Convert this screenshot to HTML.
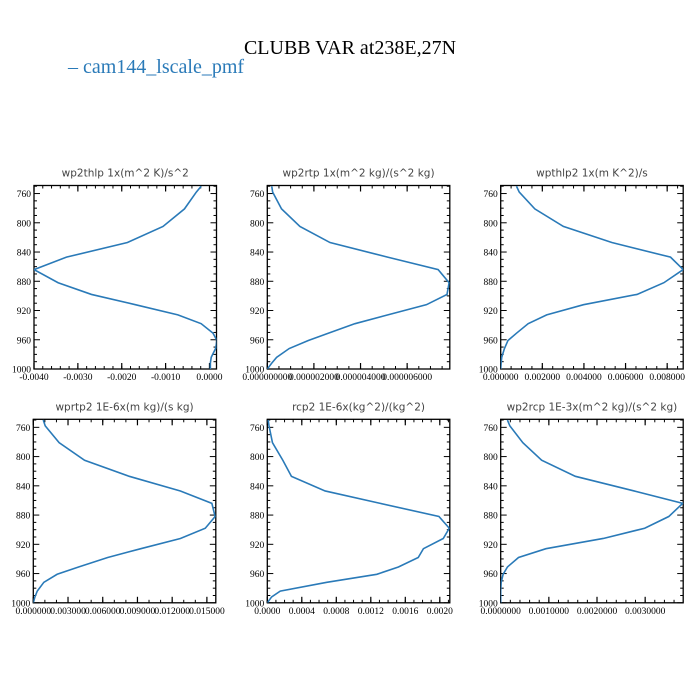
<!DOCTYPE html>
<html><head><meta charset="utf-8"><style>
html,body{margin:0;padding:0;background:#fff;}
svg{display:block;}
.ttl{font-family:"Liberation Serif",serif;}
.pt{font-family:"DejaVu Sans","Liberation Sans",sans-serif;font-size:10.5px;fill:#444;}
.tk{font-family:"Liberation Serif",serif;font-size:9.5px;fill:#000;}
</style></head><body>
<svg id="chart" width="700" height="700" viewBox="0 0 700 700">
<text class="ttl" x="350" y="54" text-anchor="middle" font-size="20">CLUBB VAR at238E,27N</text>
<text class="ttl" x="68" y="73" font-size="20" fill="#2a7ab8">– cam144_lscale_pmf</text>
<g id="panels"></g>
</svg>
<script>
const pressure = [750,758,781,805,827,847,864,882,898,912,926,938,951,961,972,984,992,1000];
const wp2thlp = [-0.00019,-0.0003,-0.00057,-0.00106,-0.00187,-0.00326,-0.0040,-0.00345,-0.00269,-0.00169,-0.00072,-0.00019,0.00008,0.00017,0.00014,0.00004,0.00002,0.00002];
const wp2rtp = [0.19e-6,0.23e-6,0.61e-6,1.40e-6,2.69e-6,5.16e-6,7.33e-6,7.80e-6,7.71e-6,6.83e-6,5.17e-6,3.76e-6,2.63e-6,1.76e-6,0.94e-6,0.4e-6,0.19e-6,0];
const wpthlp2 = [0.00076,0.00089,0.00164,0.00301,0.00534,0.00816,0.00877,0.00784,0.00655,0.00398,0.00221,0.00132,0.00076,0.00035,0.00018,0.00005,0.00002,0];
const wprtp2 = [0.00086,0.00103,0.00223,0.00443,0.00829,0.01271,0.01543,0.01571,0.01486,0.01271,0.00929,0.00643,0.00391,0.00206,0.00091,0.00034,0.00014,0];
const rcp2 = [0.00001,0.00002,0.00006,0.00018,0.00028,0.00067,0.00131,0.00199,0.00211,0.00204,0.00181,0.00175,0.00152,0.00127,0.00069,0.00015,0.00005,0];
const wp2rcp = [0.00014,0.00019,0.00046,0.00085,0.00155,0.00277,0.00378,0.00349,0.00299,0.00213,0.00094,0.00037,0.00014,0.00005,0.00001,0,0,0];
const yTicks = [760,800,840,880,920,960,1000];
const xTicks1 = [-0.004,-0.003,-0.002,-0.001,0];
const xLabels1 = ["-0.0040","-0.0030","-0.0020","-0.0010","0.0000"];
const xTicks2 = [0,2e-6,4e-6,6e-6];
const xLabels2 = ["0.000000000","0.000002000","0.000004000","0.000006000"];
const xTicks3 = [0,0.002,0.004,0.006,0.008];
const xLabels3 = ["0.000000","0.002000","0.004000","0.006000","0.008000"];
const xTicks4 = [0,0.003,0.006,0.009,0.012,0.015];
const xLabels4 = ["0.000000","0.003000","0.006000","0.009000","0.012000","0.015000"];
const xTicks5 = [0,0.0004,0.0008,0.0012,0.0016,0.002];
const xLabels5 = ["0.0000","0.0004","0.0008","0.0012","0.0016","0.0020"];
const xTicks6 = [0,0.001,0.002,0.003];
const xLabels6 = ["0.0000000","0.0010000","0.0020000","0.0030000"];

const NS="http://www.w3.org/2000/svg";
const root=document.getElementById('panels');
function mk(tag,attrs,parent){const e=document.createElementNS(NS,tag);for(const k in attrs)e.setAttribute(k,attrs[k]);parent.appendChild(e);return e;}
const panels=[
 {name:'wp2thlp',title:'wp2thlp   1x(m^2 K)/s^2',vals:wp2thlp,x0:34,y0:185.5,xmin:-0.004,xmax:0.00016,ticks:xTicks1,labels:xLabels1,minor:0.0002},
 {name:'wp2rtp',title:'wp2rtp  1x(m^2 kg)/(s^2 kg)',vals:wp2rtp,x0:267.3,y0:185.5,xmin:0,xmax:7.83e-6,ticks:xTicks2,labels:xLabels2,minor:0.5e-6},
 {name:'wpthlp2',title:'wpthlp2  1x(m K^2)/s',vals:wpthlp2,x0:500.7,y0:185.5,xmin:0,xmax:0.00877,ticks:xTicks3,labels:xLabels3,minor:0.0005},
 {name:'wprtp2',title:'wprtp2  1E-6x(m kg)/(s kg)',vals:wprtp2,x0:33.3,y0:419.3,xmin:0,xmax:0.01577,ticks:xTicks4,labels:xLabels4,minor:0.001},
 {name:'rcp2',title:'rcp2  1E-6x(kg^2)/(kg^2)',vals:rcp2,x0:267.3,y0:419.3,xmin:0,xmax:0.002116,ticks:xTicks5,labels:xLabels5,minor:0.0001},
 {name:'wp2rcp',title:'wp2rcp  1E-3x(m^2 kg)/(s^2 kg)',vals:wp2rcp,x0:500.7,y0:419.3,xmin:0,xmax:0.00379,ticks:xTicks6,labels:xLabels6,minor:0.0002}
];
const W=182.5,H=183.5,PMIN=749,PMAX=1000;
panels.forEach(p=>{
 const g=mk('g',{},root);
 
 
 const sx=v=>p.x0+(v-p.xmin)/(p.xmax-p.xmin)*W;
 const sy=v=>p.y0+(v-PMIN)/(PMAX-PMIN)*H;
 const t=mk('text',{class:'pt',x:p.x0+W/2,y:p.y0-9,'text-anchor':'middle','xml:space':'preserve'},g);
 t.textContent=p.title;
 
 
 const bx=mk('rect',{x:p.x0,y:p.y0,width:W,height:H,fill:'none',stroke:'#000','stroke-width':1.3},g);
 
 
 // y minor ticks
 for(let v=750;v<=1000;v+=10){
  const y=sy(v);const maj=(v-760)%40===0;const L=maj?6:3;
  mk('line',{x1:p.x0,y1:y,x2:p.x0+L,y2:y,stroke:'#000','stroke-width':1},g);
  mk('line',{x1:p.x0+W,y1:y,x2:p.x0+W-L,y2:y,stroke:'#000','stroke-width':1},g);
 }
 yTicks.forEach(v=>{
  const tx=mk('text',{class:'tk',x:p.x0-3,y:sy(v)+3.5,'text-anchor':'end'},g);
  tx.textContent=String(v);
  
  
 });
 // x minor ticks
 const step=p.minor;
 for(let v=Math.ceil(p.xmin/step)*step;v<=p.xmax+1e-15;v+=step){
  const x=sx(v);
  mk('line',{x1:x,y1:p.y0+H,x2:x,y2:p.y0+H-3,stroke:'#000','stroke-width':1},g);
  mk('line',{x1:x,y1:p.y0,x2:x,y2:p.y0+3,stroke:'#000','stroke-width':1},g);
 }
 p.ticks.forEach((v,i)=>{
  const x=sx(v);
  mk('line',{x1:x,y1:p.y0+H,x2:x,y2:p.y0+H-6,stroke:'#000','stroke-width':1.2},g);
  mk('line',{x1:x,y1:p.y0,x2:x,y2:p.y0+6,stroke:'#000','stroke-width':1.2},g);
  const tx=mk('text',{class:'tk',x:x,y:p.y0+H+11,'text-anchor':'middle','font-size':'9'},g);
  tx.textContent=p.labels[i];
  
  
 });
 const pts=p.vals.map((v,i)=>sx(v).toFixed(2)+','+sy(pressure[i]).toFixed(2)).join(' ');
 const cp=mk('clipPath',{id:'c'+p.name},g);
 mk('rect',{x:p.x0,y:p.y0,width:W,height:H},cp);
 const pl=mk('polyline',{points:pts,fill:'none',stroke:'#2a7ab8','stroke-width':1.6,'clip-path':'url(#c'+p.name+')'},g);
 
 
});
</script>
</body></html>
